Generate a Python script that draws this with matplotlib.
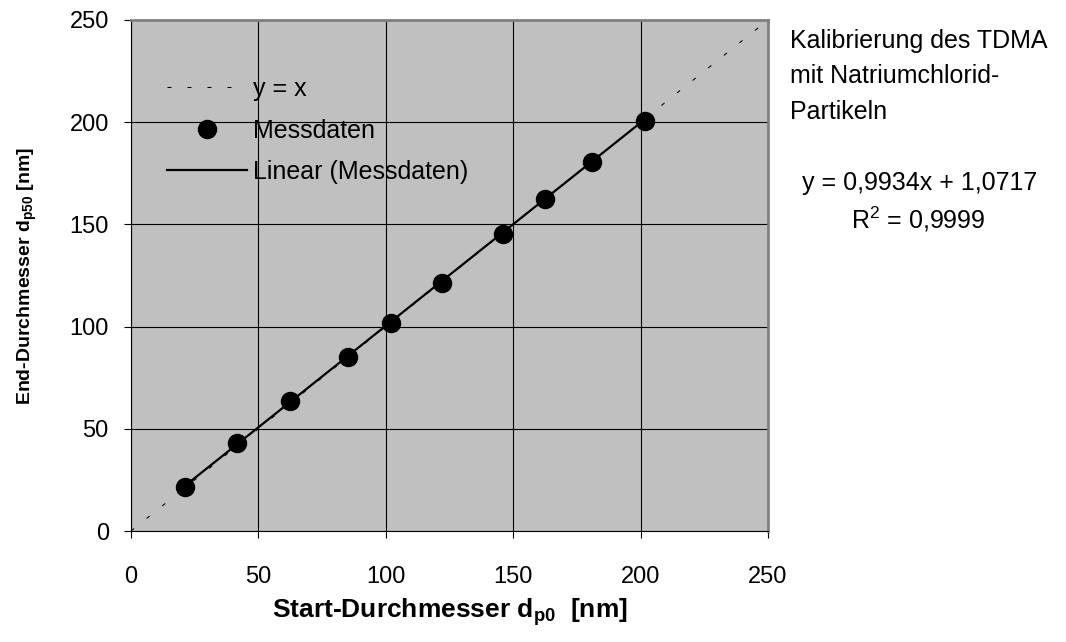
import matplotlib.pyplot as plt
import numpy as np

plt.rcParams['font.family'] = ['Liberation Sans', 'DejaVu Sans']
plt.rcParams['mathtext.fontset'] = 'custom'
plt.rcParams['mathtext.rm'] = 'Liberation Sans'
plt.rcParams['mathtext.bf'] = 'Liberation Sans:bold'

# measured diameters (nm)
d_start = [21.2, 41.6, 62.4, 85.2, 102.0, 122.1, 146.0, 162.5, 180.9, 201.7]
d_end = [21.5, 43.1, 63.6, 85.1, 101.8, 121.3, 145.3, 162.4, 180.5, 200.6]
slope = 0.9934
intercept = 1.0717
ticks = [0, 50, 100, 150, 200, 250]

fig = plt.figure(figsize=(10.66, 6.42), dpi=100)
ax = fig.add_axes([131/1066, 1 - 531/642, 637/1066, 511/642])
ax.set_facecolor('#c0c0c0')

# y = x reference
ident = np.array([0, 250])
ax.plot(ident, ident, color='black', lw=0.75, ls=(0, (3.8, 15.4)), label='y = x')
ax.plot(d_start, d_end, 'o', color='black', ms=13, label='Messdaten', zorder=4)
xf = np.array([d_start[0], d_start[-1]])
ax.plot(xf, slope * xf + intercept, color='black', lw=1.6, label='Linear (Messdaten)', zorder=3)

ax.set_xlim(0, 250)
ax.set_ylim(0, 250)
ax.set_xticks(ticks)
ax.set_yticks(ticks)
ax.grid(True, color='black', lw=0.8)
ax.set_axisbelow(True)
ax.tick_params(direction='out', length=5, labelsize=17)
ax.tick_params(axis='x', pad=20)
ax.tick_params(axis='y', pad=11)
for s in ['top', 'right']:
    ax.spines[s].set_color('#808080')
    ax.spines[s].set_linewidth(2)
for s in ['left', 'bottom']:
    ax.spines[s].set_color('black')

ax.set_xlabel(r'Start-Durchmesser d$_{\mathbf{p0}}$  [nm]', fontsize=19, fontweight='bold', labelpad=6)
ax.set_ylabel(r'End-Durchmesser d$_{\mathbf{p50}}$ [nm]', fontsize=14, fontweight='bold', labelpad=22)

leg = ax.legend(loc='upper left', bbox_to_anchor=((167 - 131) / 637, 0.888), frameon=False,
                fontsize=18, borderpad=0, borderaxespad=0,
                handlelength=3.2, handletextpad=0.24, labelspacing=0.7)

fig.text(790/1066, 1 - 29/642, 'Kalibrierung des TDMA\nmit Natriumchlorid-\nPartikeln',
         fontsize=18, va='top', ha='left', linespacing=1.6)
fig.text(920/1066, 1 - 183/642, 'y = 0,9934x + 1,0717', fontsize=18, va='center', ha='center')
fig.text(918/1066, 1 - 219/642, r'R$^2$ = 0,9999', fontsize=18, va='center', ha='center')

fig.savefig('out.png', dpi=100)
